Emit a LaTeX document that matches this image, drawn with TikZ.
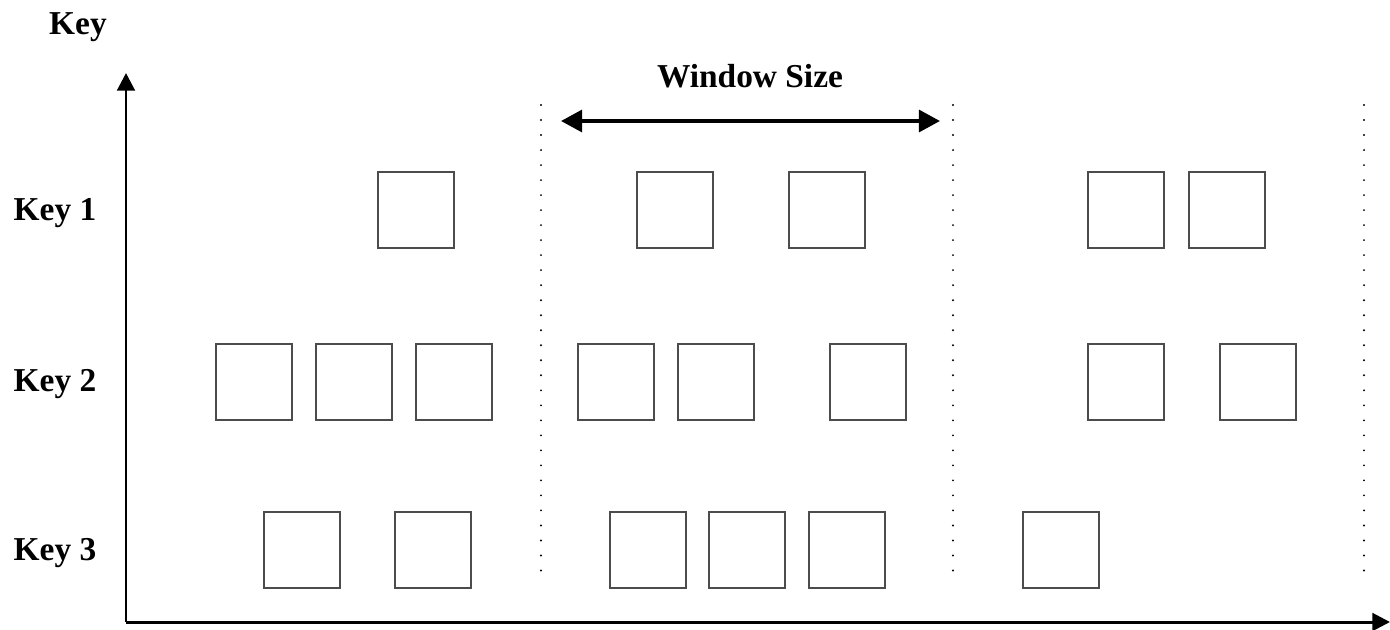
\documentclass[tikz,border=0pt]{standalone}
\usepackage{fontspec}
\setmainfont{Liberation Serif}
\usetikzlibrary{arrows.meta}
\tikzset{
  item/.style={draw=black!70, line width=0.45pt, minimum size=0.76cm, inner sep=0pt},
  keylabel/.style={font=\fontsize{9.5pt}{11pt}\selectfont\bfseries},
  axis/.style={line width=0.85pt, -{Triangle[length=5pt,width=5pt]}},
  window/.style={dash pattern=on 0pt off 4.27pt, line cap=round, line width=0.6pt}
}
\begin{document}
\begin{tikzpicture}[x=0.01cm, y=-0.01cm]
\useasboundingbox (0,0) rectangle (1390,630);
% axes
\coordinate (origin) at (126,622);
\coordinate (ytop) at (126,73);
\coordinate (xend) at (1390,622);
\draw[axis] (origin) -- (ytop); % key axis
\draw[axis] (origin) -- (xend); % time axis
\node[keylabel] (keyaxis) at (78,27) {Key};
% window boundaries
\coordinate (w1top) at (541,105); \coordinate (w1bot) at (541,582);
\coordinate (w2top) at (953,105); \coordinate (w2bot) at (953,582);
\coordinate (w3top) at (1364,105); \coordinate (w3bot) at (1364,582);
\draw[window] (w1top) -- (w1bot);
\draw[window] (w2top) -- (w2bot);
\draw[window] (w3top) -- (w3bot);
% window size
\coordinate (wsleft) at (561,121);
\coordinate (wsright) at (940,121);
\draw[line width=1.1pt, {Triangle[length=6pt,width=6.2pt]}-{Triangle[length=6pt,width=6.2pt]}] (wsleft) -- (wsright);
\node[keylabel] (wslabel) at (750,76) {Window Size};
% row labels
\node[keylabel] (key1) at (55,213) {Key 1};
\node[keylabel] (key2) at (55,384) {Key 2};
\node[keylabel] (key3) at (55,553) {Key 3};
% Key 1
\node[item] (r1a) at (416,210) {};
\node[item] (r1b) at (675,210) {};
\node[item] (r1c) at (827,210) {};
\node[item] (r1d) at (1126,210) {};
\node[item] (r1e) at (1227,210) {};
% Key 2
\node[item] (r2a) at (254,382) {};
\node[item] (r2b) at (354,382) {};
\node[item] (r2c) at (454,382) {};
\node[item] (r2d) at (616,382) {};
\node[item] (r2e) at (716,382) {};
\node[item] (r2f) at (868,382) {};
\node[item] (r2g) at (1126,382) {};
\node[item] (r2h) at (1258,382) {};
% Key 3
\node[item] (r3a) at (302,550) {};
\node[item] (r3b) at (433,550) {};
\node[item] (r3c) at (648,550) {};
\node[item] (r3d) at (747,550) {};
\node[item] (r3e) at (847,550) {};
\node[item] (r3f) at (1061,550) {};
\end{tikzpicture}
\end{document}
